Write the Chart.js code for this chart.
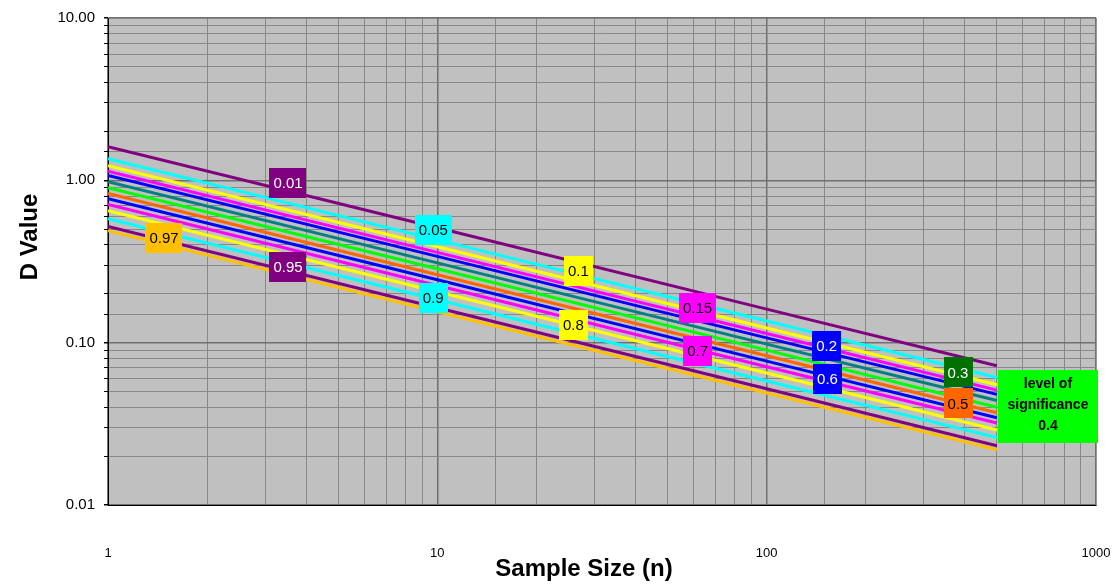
<!DOCTYPE html>
<html>
<head>
<meta charset="utf-8">
<script src="https://cdn.jsdelivr.net/npm/chart.js@4"></script>
<style>
    body { margin: 0; background: #ffffff; }
    #wrap { width: 1120px; height: 588px; }
</style>
</head>
<body>
<div id="wrap"><canvas id="ksChart"></canvas></div>
<script>
const sampleSizes = [1, 10, 100, 500];

// significance levels, top curve to bottom curve
const levels = ['0.01', '0.05', '0.1', '0.15', '0.2', '0.3', '0.4', '0.5', '0.6', '0.7', '0.8', '0.9', '0.95', '0.97'];

// D values per level at n = 1, 10, 100, 500
const d001 = [1.61, 0.51, 0.161, 0.072];
const d005 = [1.36, 0.43, 0.136, 0.061];
const d010 = [1.23, 0.39, 0.123, 0.055];
const d015 = [1.14, 0.36, 0.114, 0.051];
const d020 = [1.07, 0.34, 0.107, 0.048];
const d030 = [0.98, 0.31, 0.098, 0.044];
const d040 = [0.90, 0.285, 0.090, 0.040];
const d050 = [0.83, 0.262, 0.083, 0.037];
const d060 = [0.77, 0.244, 0.077, 0.0345];
const d070 = [0.71, 0.225, 0.071, 0.032];
const d080 = [0.65, 0.206, 0.065, 0.029];
const d090 = [0.58, 0.184, 0.058, 0.026];
const d095 = [0.52, 0.164, 0.052, 0.0232];
const d097 = [0.49, 0.155, 0.049, 0.0219];
const seriesValues = [d001, d005, d010, d015, d020, d030, d040, d050, d060, d070, d080, d090, d095, d097];

// axis ranges and titles
const xRange = [1, 1000];
const yRange = [0.01, 10];
const xTitle = 'Sample Size (n)';
const yTitle = 'D Value';

// tag boxes sitting on the curves (n, D)
const tagText = ['0.01', '0.05', '0.1', '0.15', '0.2', '0.6', '0.3', '0.5', '0.97', '0.95', '0.9', '0.8', '0.7'];
const tagN = [3.52, 9.72, 26.8, 61.7, 152, 153, 381, 381, 1.48, 3.52, 9.72, 25.9, 61.7];
const tagD = [0.96, 0.493, 0.2765, 0.164, 0.0959, 0.0601, 0.0655, 0.0422, 0.44, 0.292, 0.189, 0.129, 0.0893];

const config = {
    lineColors: ['#800080', '#00ffff', '#ffff00', '#ff00ff', '#0000ff', '#008080', '#00ff00',
        '#ff6600', '#0000ff', '#ff00ff', '#ffff00', '#00ffff', '#800080', '#ffc000'],
    tagBg: ['#800080', '#00ffff', '#ffff00', '#ff00ff', '#0000ff', '#0000ff', '#007000', '#ff6600',
        '#ffc000', '#800080', '#00ffff', '#ffff00', '#ff00ff'],
    tagFg: ['#ffffff', '#000000', '#000000', '#000000', '#ffffff', '#ffffff', '#ffffff', '#000000',
        '#000000', '#ffffff', '#000000', '#000000', '#000000'],
    font: "'Liberation Sans', Arial, sans-serif",
};

function isDecade(v) {
    let l = Math.log10(v);
    return Math.abs(l - Math.round(l)) < 1e-6;
}

// grey plot background
const plotBg = {
    id: 'plotBg',
    beforeDraw(chart) {
        let a = chart.chartArea, ctx = chart.ctx;
        ctx.save();
        ctx.fillStyle = '#c0c0c0';
        ctx.fillRect(a.left, a.top, a.right - a.left, a.bottom - a.top);
        ctx.strokeStyle = '#808080';
        ctx.lineWidth = 1;
        ctx.strokeRect(a.left, a.top, a.right - a.left, a.bottom - a.top);
        ctx.restore();
    }
};

// coloured tags, the "level of significance" box, axis titles
const tags = {
    id: 'tags',
    afterDatasetsDraw(chart) {
        let ctx = chart.ctx, xs = chart.scales.x, ys = chart.scales.y;
        ctx.save();
        ctx.font = '15px ' + config.font;
        ctx.textAlign = 'center';
        ctx.textBaseline = 'middle';
        for (let i = 0; i < tagText.length; i++) {
            let px = xs.getPixelForValue(tagN[i]);
            let py = ys.getPixelForValue(tagD[i]);
            let w = ctx.measureText(tagText[i]).width + 8;
            let h = 30;
            ctx.fillStyle = config.tagBg[i];
            ctx.fillRect(Math.round(px - w / 2), Math.round(py - h / 2), Math.round(w), h);
            ctx.fillStyle = config.tagFg[i];
            ctx.fillText(tagText[i], px, py + 1);
        }
        let bx = xs.getPixelForValue(714.7), by = ys.getPixelForValue(0.041);
        ctx.fillStyle = '#00ff00';
        ctx.fillRect(Math.round(bx - 50), Math.round(by - 36), 100, 73);
        ctx.fillStyle = '#000000';
        ctx.font = 'bold 14px ' + config.font;
        ['level of', 'significance', '0.4'].forEach((t, k) => {
            ctx.fillText(t, bx, by - 21 + k * 21);
        });
        ctx.restore();
    },
    afterDraw(chart) {
        let ctx = chart.ctx;
        ctx.save();
        ctx.fillStyle = '#000000';
        ctx.font = 'bold 24px ' + config.font;
        ctx.textAlign = 'center';
        ctx.textBaseline = 'middle';
        ctx.fillText(xTitle, 584, 569);
        ctx.translate(30, 237);
        ctx.rotate(-Math.PI / 2);
        ctx.fillText(yTitle, 0, 0);
        ctx.restore();
    }
};

const datasets = levels.map((lv, i) => ({
    label: lv,
    data: sampleSizes.map((n, k) => ({ x: n, y: seriesValues[i][k] })),
    borderColor: config.lineColors[i],
    backgroundColor: config.lineColors[i],
    borderWidth: 3,
    pointRadius: 0,
    fill: false,
    tension: 0,
}));

new Chart(document.getElementById('ksChart'), {
    type: 'line',
    data: { datasets: datasets },
    plugins: [plotBg, tags],
    options: {
        responsive: true,
        maintainAspectRatio: false,
        animation: false,
        layout: { padding: { top: 16, right: 24, left: 0, bottom: 0 } },
        plugins: {
            legend: { display: false },
            tooltip: { enabled: false },
        },
        scales: {
            x: {
                type: 'logarithmic',
                min: xRange[0],
                max: xRange[1],
                afterFit: (s) => { s.height = 83; s.paddingLeft = 0; s.paddingRight = 0; },
                border: { color: '#000000', width: 1 },
                grid: {
                    color: (c) => isDecade(c.tick.value) ? '#707070' : '#888888',
                    lineWidth: (c) => isDecade(c.tick.value) ? 1.5 : 1,
                    drawTicks: false,
                },
                ticks: {
                    autoSkip: false,
                    maxRotation: 0,
                    padding: 41,
                    color: '#000000',
                    font: { family: config.font, size: 13 },
                    callback: (v) => isDecade(v) ? String(Math.round(v)) : '',
                },
            },
            y: {
                type: 'logarithmic',
                min: yRange[0],
                max: yRange[1],
                afterFit: (s) => { s.width = 108; },
                border: { color: '#000000', width: 1 },
                grid: {
                    color: (c) => isDecade(c.tick.value) ? '#707070' : '#888888',
                    lineWidth: (c) => isDecade(c.tick.value) ? 1.5 : 1,
                    tickColor: '#000000',
                    tickLength: 4,
                },
                ticks: {
                    autoSkip: false,
                    padding: 9,
                    color: '#000000',
                    font: { family: config.font, size: 15 },
                    callback: (v) => isDecade(v) ? v.toFixed(2) : '',
                },
            },
        },
    },
});
</script>
</body>
</html>
